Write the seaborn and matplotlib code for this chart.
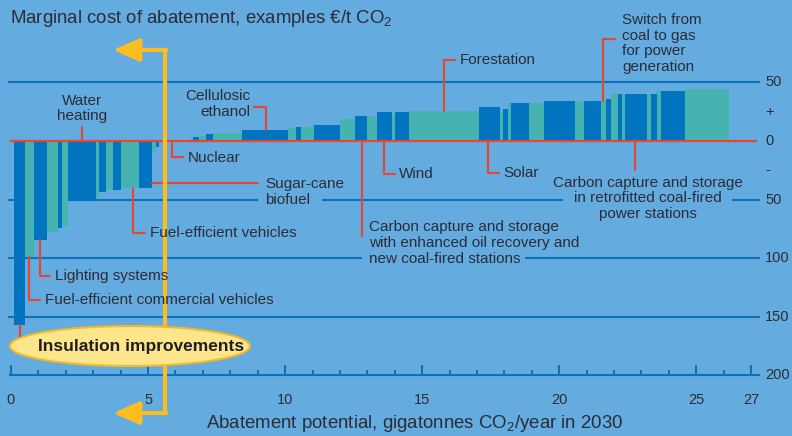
import numpy as np
import pandas as pd
import matplotlib
matplotlib.use("Agg")
import matplotlib.pyplot as plt
from matplotlib.patches import Ellipse
import seaborn as sns

# abatement measures, left to right
# width = abatement potential (Gt CO2/year), cost = EUR/t CO2, kind = bar colour
start = 0.11
widths = [0.40, 0.33, 0.46, 0.43, 0.14, 0.21, 1.01, 0.13, 0.25, 0.26, 0.28, 0.66,
          0.47, 0.14, 0.12, 1.13, 0.10, 0.23, 0.25, 0.25, 1.07, 1.66, 0.31, 0.17,
          0.48, 0.95, 0.55, 0.44, 0.36, 0.54, 0.12, 0.51, 2.55, 0.77, 0.11, 0.18,
          0.11, 0.66, 0.55, 1.13, 0.32, 0.63, 0.18, 0.18, 0.26, 0.15, 0.10, 0.80,
          0.15, 0.22, 0.14, 0.88, 1.60]
costs = [-157, -99, -85, -78, -74, -73, -51, -48, -44, -42, -42, -40,
         -40, -9, -5, 0, 2, 3.5, 4.3, 6, 7, 9.7, 11.4, 12,
         12, 14, 19, 21, 21.6, 24.8, 23, 24.8, 25.6, 29, 25, 27.4,
         32.5, 32.5, 32.5, 34, 34, 34, 34, 36, 40, 40, 40, 40,
         40, 40, 42.7, 42.7, 44.4]
kinds = ["b", "t", "b", "t", "b", "t", "b", "t", "b", "t", "b", "t",
         "b", "t", "b", "b", "t", "b", "t", "b", "t", "b", "t", "b",
         "t", "b", "t", "b", "t", "b", "t", "b", "t", "b", "t", "b",
         "t", "b", "t", "b", "t", "b", "t", "b", "t", "b", "t", "b",
         "t", "b", "t", "b", "t"]

x_major = [0, 5, 10, 15, 20, 25, 27]
x_minor = list(range(1, 27))
right_ticks = [50, 25, 0, -25, -50, -100, -150, -200]
right_labels = ["50", "+", "0", "-", "50", "100", "150", "200"]

BG = "#64abdf"
BLUE = "#0074be"
TEAL = "#47b3b1"
LINE = "#0b73bc"
RED = "#e8462e"
YELLOW = "#fbbd22"
INK = "#2c2c36"
FS = 11

sns.set_style("white", {"axes.facecolor": BG, "figure.facecolor": BG})
plt.rcParams["font.family"] = ["Liberation Sans", "DejaVu Sans"]
plt.rcParams["mathtext.default"] = "regular"

edges = start + np.concatenate([[0], np.cumsum(widths)])
df = pd.DataFrame({"mid": (edges[:-1] + edges[1:]) / 2, "cost": costs, "kind": kinds})

fig = plt.figure(figsize=(7.92, 4.36), dpi=100)
ax = fig.add_axes([0, 0, 1, 1])

sns.histplot(data=df, x="mid", weights="cost", hue="kind", hue_order=["b", "t"],
             bins=[float(e) for e in edges], palette={"b": BLUE, "t": TEAL},
             alpha=1, linewidth=0, legend=False, ax=ax, zorder=3)

ax.set_xlim(-0.4013, 28.494)
ax.set_ylim(-252.1, 120.5)
ax.set_xlabel("")
ax.set_ylabel("")

# horizontal guide lines (broken where text sits)
ax.hlines(50, -0.11, 27.33, color=LINE, lw=1.5, zorder=1)
ax.hlines(-150, -0.11, 27.33, color=LINE, lw=1.5, zorder=1)
ax.hlines([-50, -50, -50], [-0.11, 11.35, 26.3], [9.01, 20.15, 27.33], color=LINE, lw=1.5, zorder=1)
ax.hlines([-100, -100], [-0.11, 18.75], [12.8, 27.33], color=LINE, lw=1.5, zorder=1)

# bottom axis
for side in ["top", "right", "left"]:
    ax.spines[side].set_visible(False)
ax.spines["bottom"].set_position(("data", -200))
ax.spines["bottom"].set_bounds(-0.04, 27.3)
ax.spines["bottom"].set_color(LINE)
ax.spines["bottom"].set_linewidth(1.5)
ax.set_xticks(x_major)
ax.set_xticks(x_minor, minor=True)
ax.set_xticklabels([str(v) for v in x_major])
ax.tick_params(axis="x", which="both", bottom=True, direction="in", color=LINE,
               width=1.5, labelcolor=INK, labelsize=10.5, pad=13)
ax.tick_params(axis="x", which="major", length=7)
ax.tick_params(axis="x", which="minor", length=3.5)
ax.set_yticks([])

# right-hand value labels
for v, lab in zip(right_ticks, right_labels):
    ax.text(27.51, v, lab, color=INK, fontsize=10.5, va="center", ha="left")

ax.text(-0.04, 105, r"Marginal cost of abatement, examples €/t CO$_2$",
        color=INK, fontsize=13.4, va="center", ha="left")
ax.text(14.74, -241, r"Abatement potential, gigatonnes CO$_2$/year in 2030",
        color=INK, fontsize=13.4, va="center", ha="center")

# zero line
ax.hlines(0, -0.04, 27.22, color=RED, lw=1.6, zorder=4)


def callout(xs, ys, text=None, tx=0, ty=0, **kw):
    ax.plot(xs, ys, color=RED, lw=1.5, zorder=5)
    if text:
        ax.text(tx, ty, text, color=INK, fontsize=FS, va="center", zorder=8,
                linespacing=1.15, **kw)


callout([2.59, 2.59], [0, 12], "Water\nheating", 2.59, 27.8, ha="center")
callout([5.87, 5.87, 6.27], [0, -13.7, -13.7], "Nuclear", 6.46, -14.5)
callout([5.14, 9.01], [-35.9, -35.9], "Sugar-cane\nbiofuel", 9.27, -43.6)
callout([4.45, 4.45, 4.89], [-40, -78.6, -78.6], "Fuel-efficient vehicles", 5.07, -78.6)
callout([1.06, 1.06, 1.42], [-85, -115.4, -115.4], "Lighting systems", 1.61, -115.4)
callout([0.66, 0.66, 1.06], [-99, -135.9, -135.9],
        "Fuel-efficient commercial vehicles", 1.24, -135.9)
callout([0.33, 0.33, 0.73], [-157, -175.2, -175.2])
callout([8.87, 9.30, 9.30], [29.1, 29.1, 9.7], "Cellulosic\nethanol", 8.72, 31.6, ha="right")
callout([15.80, 15.80, 16.20], [25.6, 69.2, 69.2], "Forestation", 16.38, 69.2)
callout([21.60, 21.60, 22.04], [34, 87.2, 87.2],
        "Switch from\ncoal to gas\nfor power\ngeneration", 22.29, 83.3)
callout([13.61, 13.61, 14.01], [0, -28.2, -28.2], "Wind", 14.16, -28.2)
callout([17.40, 17.40, 17.80], [0, -27.4, -27.4], "Solar", 17.95, -27.4)
callout([12.81, 12.81], [0, -81.2],
        "Carbon capture and storage\nwith enhanced oil recovery and\nnew coal-fired stations",
        13.06, -87.2)
callout([22.77, 22.77], [0, -24.8],
        "Carbon capture and storage\nin retrofitted coal-fired\npower stations",
        23.24, -49.1, ha="center")

# yellow bracket with arrows
ax.plot([5.62, 5.62], [77.8, -232.5], color=YELLOW, lw=3, zorder=6)
for yy in [77.8, -232.5]:
    ax.annotate("", xy=(3.72, yy), xytext=(5.67, yy), zorder=6,
                arrowprops=dict(arrowstyle="-|>,head_length=1.6,head_width=0.7",
                                color=YELLOW, lw=3, shrinkA=0, shrinkB=0))

ax.add_patch(Ellipse((4.34, -175.2), 8.76, 34.2, fc="#fde58c", ec="#f2b92a",
                     lw=1.5, zorder=7))
ax.text(0.985, -175.2, "Insulation improvements", color="#1e1e24", fontsize=12.5,
        fontweight="bold", va="center", ha="left", zorder=8)

fig.savefig("out.png", dpi=100, facecolor=BG)
